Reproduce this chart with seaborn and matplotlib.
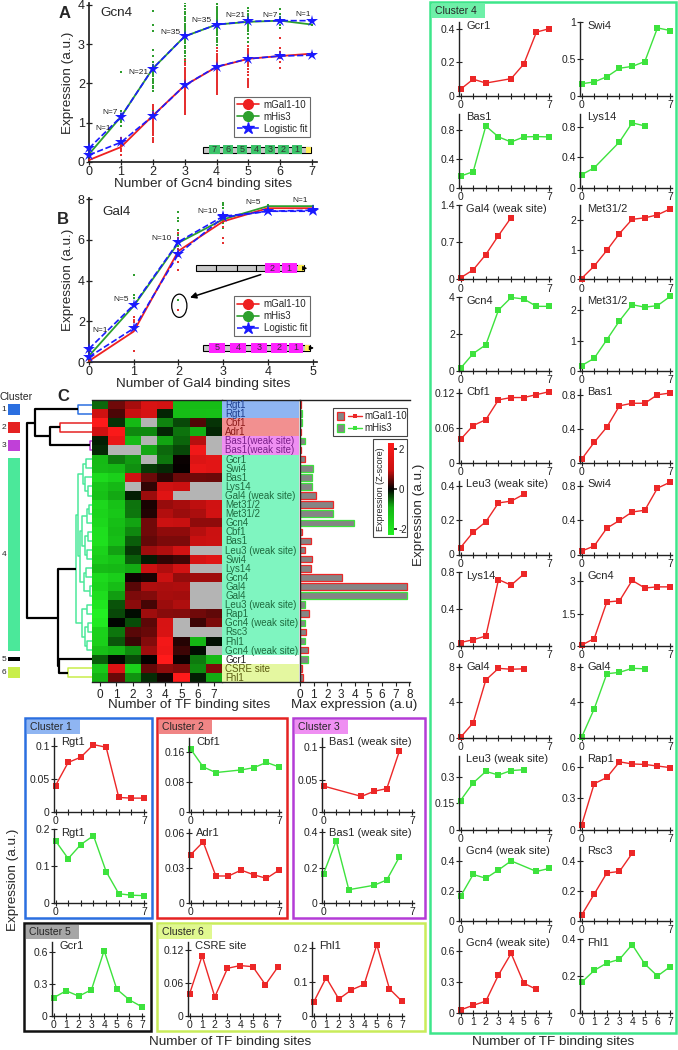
import numpy as np
import pandas as pd
import matplotlib
matplotlib.use("Agg")
import matplotlib.pyplot as plt
import matplotlib.cm as cm
import seaborn as sns
from matplotlib.colors import LinearSegmentedColormap, Normalize
from matplotlib.patches import Rectangle, Ellipse, FancyArrowPatch
from matplotlib.lines import Line2D

nan = np.nan

# ---------------- panel A : Gcn4 titration ----------------
gcn4_sites = [0, 1, 2, 3, 4, 5, 6, 7]
gcn4_n = [1, 7, 21, 35, 35, 21, 7, 1]
gcn4_gal_mean = [0.05, 0.38, 1.18, 1.95, 2.42, 2.63, 2.70, 2.76]
gcn4_his_mean = [0.20, 1.15, 2.38, 3.20, 3.50, 3.57, 3.60, 3.50]
gcn4_gal_fit = [0.18, 0.50, 1.17, 1.95, 2.43, 2.63, 2.70, 2.72]
gcn4_his_fit = [0.35, 1.15, 2.38, 3.20, 3.50, 3.58, 3.60, 3.60]
gcn4_his_dots = [
    [0.20],
    [2.30, 1.30, 1.22, 1.15, 1.08, 1.02, 0.92],
    [3.85, 3.50, 3.33, 2.85, 2.70, 2.55, 2.48, 2.42, 2.36, 2.30, 2.25, 2.18, 2.12, 2.06, 2.00, 1.94, 1.88, 1.80, 1.45, 1.38, 1.30],
    [4.05, 3.98, 3.90, 3.82, 3.76, 3.70, 3.64, 3.58, 3.52, 3.47, 3.42, 3.37, 3.32, 3.27, 3.22, 3.17, 3.12, 3.07,
     3.02, 2.96, 2.90, 2.84, 2.77, 2.70, 2.62, 2.55, 2.47, 2.38, 2.30, 2.22, 2.13, 2.05, 1.95, 1.85, 1.75],
    [4.10, 4.02, 3.96, 3.91, 3.86, 3.82, 3.78, 3.74, 3.70, 3.66, 3.62, 3.58, 3.54, 3.50, 3.46, 3.42, 3.38, 3.33,
     3.28, 3.23, 3.17, 3.11, 3.05, 2.98, 2.91, 2.84, 2.76, 2.68, 2.60, 2.52, 2.44, 2.36, 2.28, 2.20, 2.10],
    [4.10, 3.92, 3.84, 3.78, 3.73, 3.68, 3.64, 3.60, 3.56, 3.52, 3.48, 3.44, 3.39, 3.33, 3.25, 3.15, 3.05, 2.95, 2.85, 2.75, 2.65],
    [3.90, 3.78, 3.70, 3.64, 3.58, 3.50, 3.42],
    [3.50],
]
gcn4_gal_dots = [
    [0.05],
    [0.62, 0.52, 0.45, 0.40, 0.34, 0.28, 0.18],
    [1.45, 1.40, 1.34, 1.28, 1.24, 1.20, 1.16, 1.12, 1.08, 1.04, 1.00, 0.96, 0.92, 0.88, 0.84, 0.80, 0.74, 0.68, 0.62, 0.57, 0.52],
    [2.60, 2.52, 2.46, 2.40, 2.34, 2.28, 2.23, 2.18, 2.14, 2.10, 2.06, 2.02, 1.98, 1.94, 1.90, 1.86, 1.82, 1.78,
     1.74, 1.70, 1.66, 1.62, 1.58, 1.54, 1.50, 1.46, 1.42, 1.38, 1.34, 1.30, 1.26, 1.22, 2.00, 1.92, 1.88],
    [2.90, 2.82, 2.76, 2.71, 2.67, 2.63, 2.59, 2.56, 2.53, 2.50, 2.47, 2.44, 2.41, 2.38, 2.35, 2.32, 2.28, 2.24,
     2.20, 2.16, 2.12, 2.08, 2.04, 2.00, 1.96, 1.92, 1.88, 1.84, 1.80, 1.76, 1.73, 2.45, 2.40, 2.30, 2.26],
    [2.95, 2.88, 2.82, 2.77, 2.73, 2.69, 2.65, 2.61, 2.57, 2.53, 2.49, 2.44, 2.38, 2.30, 2.22, 2.12, 2.08, 2.04, 2.00, 1.96, 1.92],
    [3.15, 2.90, 2.80, 2.72, 2.64, 2.55, 2.40],
    [2.78],
]

# ---------------- panel B : Gal4 titration ----------------
gal4_sites = [0, 1, 2, 3, 4, 5]
gal4_n = [1, 5, 10, 10, 5, 1]
gal4_gal_mean = [0.05, 1.50, 5.45, 6.90, 7.55, 7.55]
gal4_his_mean = [0.30, 2.75, 5.85, 7.00, 7.65, 7.65]
gal4_gal_fit = [0.25, 1.65, 5.30, 7.10, 7.40, 7.40]
gal4_his_fit = [0.65, 2.80, 5.90, 7.15, 7.40, 7.45]
gal4_his_dots = [[0.30], [4.25, 3.30, 3.15, 2.05], [7.35, 7.05, 6.90, 6.50, 6.25, 5.95, 5.70, 3.05],
                 [7.80, 7.70, 7.55, 7.05, 6.90, 6.80, 6.60], [7.70], [7.65]]
gal4_gal_dots = [[0.05], [2.20, 2.05, 1.95, 0.55], [6.35, 6.10, 5.95, 5.55, 5.20, 4.90, 4.50, 2.55],
                 [7.25, 6.65, 6.10, 5.85], [7.45], [7.55]]

# ---------------- panel C : promoter library ----------------
sites8 = [0, 1, 2, 3, 4, 5, 6, 7]
heat_labels = ['Rgt1', 'Rgt1', 'Cbf1', 'Adr1', 'Bas1(weak site)', 'Bas1(weak site)',
               'Gcr1', 'Swi4', 'Bas1', 'Lys14', 'Gal4 (weak site)', 'Met31/2', 'Met31/2', 'Gcn4',
               'Cbf1', 'Bas1', 'Leu3 (weak site)', 'Swi4', 'Lys14', 'Gcn4', 'Gal4', 'Gal4',
               'Leu3 (weak site)', 'Rap1', 'Gcn4 (weak site)', 'Rsc3', 'Fhl1', 'Gcn4 (weak site)',
               'Gcr1', 'CSRE site', 'Fhl1']
heat_cluster = [1, 1, 2, 2, 3, 3] + [4] * 22 + [5, 6, 6]
heat_reporter = ['gal', 'his', 'his', 'gal', 'his', 'gal',
                 'gal', 'his', 'his', 'his', 'gal', 'gal', 'his', 'his',
                 'gal', 'gal', 'gal', 'gal', 'gal', 'gal', 'gal', 'his',
                 'his', 'gal', 'his', 'gal', 'his', 'gal',
                 'his', 'gal', 'gal']
heat_values = [
    [0.040, 0.075, 0.083, 0.102, 0.098, 0.022, 0.021, 0.021],
    [0.168, 0.120, 0.158, 0.182, 0.085, 0.025, 0.021, 0.020],
    [0.168, 0.120, 0.105, nan, 0.112, 0.118, 0.132, 0.120],
    [0.041, 0.052, 0.023, 0.023, 0.028, 0.024, 0.021, 0.028],
    [0.165, 0.350, 0.075, nan, 0.100, 0.130, 0.260, nan],
    [0.040, nan, nan, 0.024, 0.032, 0.036, 0.094, nan],
    [0.040, 0.100, 0.077, nan, 0.103, 0.190, 0.380, 0.400],
    [0.165, 0.190, 0.260, 0.375, 0.400, 0.465, 0.920, 0.885],
    [0.160, 0.220, 0.850, 0.700, 0.630, 0.700, 0.705, 0.700],
    [0.170, 0.260, nan, 0.600, 0.850, 0.810, nan, nan],
    [0.030, 0.180, 0.470, 0.830, 1.170, nan, nan, nan],
    [0.030, 0.450, 0.980, 1.550, 2.030, 2.080, 2.180, 2.380],
    [0.180, 0.420, 1.030, 1.650, 2.180, 2.100, 2.150, 2.450],
    [0.150, 0.950, 1.420, 3.300, 3.980, 3.900, 3.500, 3.500],
    [0.040, 0.064, 0.074, 0.108, 0.112, 0.112, 0.117, 0.122],
    [0.040, 0.240, 0.420, 0.670, 0.700, 0.700, 0.800, 0.820],
    [0.040, 0.130, 0.190, 0.300, 0.310, 0.350, nan, nan],
    [0.040, 0.100, 0.310, 0.400, 0.500, 0.520, 0.780, 0.850],
    [0.040, 0.070, 0.110, 0.720, 0.660, 0.780, nan, nan],
    [0.050, 0.350, 2.050, 2.100, 3.050, 2.700, 2.750, 2.750],
    [0.050, 1.700, 6.500, 7.800, 7.700, 7.750, nan, nan],
    [0.050, 3.250, 7.200, 7.350, 7.800, 7.750, nan, nan],
    [0.165, 0.265, 0.330, 0.310, 0.335, 0.340, nan, nan],
    [0.040, 0.440, 0.500, 0.650, 0.630, 0.625, 0.610, 0.595],
    [0.165, 0.310, 0.285, 0.340, 0.400, nan, 0.330, 0.350],
    [0.040, 0.180, 0.320, 0.330, 0.450, nan, nan, nan],
    [0.165, 0.230, 0.270, 0.290, 0.370, 0.265, 0.200, 0.250],
    [0.030, 0.075, 0.115, 0.370, 0.580, 0.290, 0.230, nan],
    [0.170, 0.235, 0.185, 0.245, 0.610, 0.250, 0.150, 0.085],
    [0.040, 0.110, 0.035, 0.087, 0.092, 0.090, 0.057, 0.090],
    [0.040, 0.113, 0.050, 0.077, 0.093, 0.210, 0.080, 0.043],
]
y_top_tick = [0.1, 0.2, 0.16, 0.06, 0.4, 0.1,
              0.4, 1, 0.8, 0.8, 1.4, 2, 2, 4, 0.12, 0.8, 0.4, 0.8, 0.8, 3, 8, 8,
              0.3, 0.6, 0.4, 0.4, 0.4, 0.6, 0.6, 0.12, 0.2]
# dendrogram merges: (child a, child b, height); new node ids start at 31
dendro_links = [(0, 1, 14), (2, 3, 32), (4, 5, 2), (32, 33, 42), (31, 34, 57),
                (6, 7, 6), (9, 10, 4), (8, 37, 7), (36, 38, 9), (11, 12, 3), (13, 40, 5),
                (14, 15, 4), (16, 17, 5), (42, 43, 7), (41, 44, 10), (18, 19, 6), (20, 21, 2),
                (46, 47, 8), (45, 48, 12), (39, 49, 14), (22, 23, 5), (24, 25, 4), (26, 27, 5),
                (52, 53, 7), (51, 54, 10), (50, 55, 16), (29, 30, 24), (28, 57, 33),
                (56, 58, 34), (35, 59, 65)]

# ---------------- layout (pixels) and styles ----------------
y_lim_top = [0.112, 0.2, 0.197, 0.063, 0.417, 0.114,
             0.44, 1.0, 1.02, 0.97, 1.4, 2.5, 2.43, 4.0, 0.127, 0.87, 0.43, 0.87, 0.8, 3.43, 8.3, 8.3,
             0.42, 0.71, 0.49, 0.49, 0.4, 0.72, 0.69, 0.135, 0.218]
grid4_rows = [6, 7, 8, 9, 10, 11, 13, 12, 14, 15, 16, 17, 18, 19, 20, 21, 22, 23, 24, 25, 27, 26]
gcn4_n_xy = [(0.45, 0.86), (0.65, 1.26), (1.54, 2.27), (2.54, 3.29), (3.54, 3.6), (4.58, 3.74), (5.67, 3.74), (6.72, 3.76)]
gal4_n_xy = [(0.24, 1.54), (0.72, 3.09), (1.62, 6.08), (2.65, 7.39), (3.68, 7.85), (4.72, 7.95)]

RED = '#ee2020'
GREEN_LINE = '#2ca02c'
DOT_GREEN = '#2e9e2e'
DOT_RED = '#e53030'
BLUE = '#1a1aff'
SM_RED = '#ec2727'
SM_GREEN = '#3de23d'
cl_line = {1: '#2b6fe0', 2: '#e52222', 3: '#c040d8', 4: '#4be89a', 5: 'black', 6: '#c9ee4a'}
cl_frame = {1: '#2b6fe0', 2: '#e52222', 3: '#b43cd6', 4: '#3de68a', 5: '#111111', 6: '#c9ec5a'}
cl_fill = {1: '#8fb5f2', 2: '#f29090', 3: '#ef8ff2', 4: '#7ff5c0', 5: 'white', 6: '#e4f7a0'}
cl_tag = {1: '#8fb5f2', 2: '#f08585', 3: '#ef8ff2', 4: '#6ef0a8', 5: '#a6a6a6', 6: '#e0f890'}
cl_text = {1: '#1f3f8f', 2: '#8b1a1a', 3: '#7a1f8a', 4: '#1f6b3f', 5: '#222222', 6: '#5a5a10'}

sns.set_theme(style='white')
plt.rcParams['font.family'] = ['Liberation Sans', 'DejaVu Sans']
plt.rcParams['axes.edgecolor'] = '#222222'
plt.rcParams['xtick.color'] = '#222222'
plt.rcParams['ytick.color'] = '#222222'

fig = plt.figure(figsize=(6.78, 10.5), dpi=100)
W, H = 678.0, 1050.0


def add_ax(l, t, r, b):
    return fig.add_axes([l / W, 1 - b / H, (r - l) / W, (b - t) / H])


def fig_text(x, y, s, **kw):
    fig.text(x / W, 1 - y / H, s, **kw)


def fig_rect(l, t, r, b, **kw):
    fig.add_artist(Rectangle((l / W, 1 - b / H), (r - l) / W, (b - t) / H,
                             transform=fig.transFigure, **kw))


def promoter(ax, x0, x1, y, hh, boxes, dividers=()):
    ax.add_patch(Rectangle((x0, y - hh * 0.3), x1 - x0, hh * 0.6, fc='#c8c8c8', ec='black', lw=0.8, zorder=5))
    for d in dividers:
        ax.plot([d, d], [y - hh * 0.3, y + hh * 0.3], color='black', lw=0.8, zorder=6)
    for xc, lab, w, col in boxes:
        ax.add_patch(Rectangle((xc - w / 2, y - hh / 2), w, hh, fc=col, ec='none', zorder=6))
        ax.text(xc, y, lab, ha='center', va='center', fontsize=6.5, color='#333333', zorder=7)
    ax.add_patch(Rectangle((x1 - (x1 - x0) * 0.05, y - hh * 0.3), (x1 - x0) * 0.05, hh * 0.6, fc='#ffee55', ec='none', zorder=6))
    ax.annotate('', xy=(x1 + (x1 - x0) * 0.06, y), xytext=(x1 - (x1 - x0) * 0.02, y),
                arrowprops=dict(arrowstyle='-|>', color='black', lw=0.8, mutation_scale=6), zorder=7)


def dose_panel(ax, sites, gal_dots, his_dots, gal_mean, his_mean, gal_fit, his_fit, n, n_xy):
    rows = [(s, v, 'his') for s, vs in zip(sites, his_dots) for v in vs]
    rows += [(s, v, 'gal') for s, vs in zip(sites, gal_dots) for v in vs]
    dots = pd.DataFrame(rows, columns=['site', 'expr', 'rep'])
    sns.scatterplot(data=dots[dots.rep == 'his'], x='site', y='expr', color=DOT_GREEN, marker='s',
                    s=3, linewidth=0, ax=ax, zorder=2)
    sns.scatterplot(data=dots[dots.rep == 'gal'], x='site', y='expr', color=DOT_RED, marker='s',
                    s=3, linewidth=0, ax=ax, zorder=2)
    sns.lineplot(x=sites, y=his_mean, color=GREEN_LINE, lw=1.3, ax=ax, zorder=3, clip_on=False)
    sns.lineplot(x=sites, y=gal_mean, color=RED, lw=1.3, ax=ax, zorder=3, clip_on=False)
    for fit in (his_fit, gal_fit):
        sns.lineplot(x=sites, y=fit, color=BLUE, lw=1.2, linestyle='--', marker='*', markersize=9,
                     markeredgewidth=0, ax=ax, zorder=4, clip_on=False)
    for k, (tx, ty) in zip(n, n_xy):
        ax.text(tx, ty, f'N={k}', fontsize=6, ha='center', va='center', color='#222222', zorder=8)
    sns.despine(ax=ax)
    ax.tick_params(direction='inout', length=4, width=0.9, labelsize=9, pad=1, bottom=True, left=True)
    ax.set_ylabel('Expression (a.u.)', fontsize=9.7, labelpad=3)
    handles = [Line2D([], [], color=RED, marker='o', markersize=7, lw=1.2),
               Line2D([], [], color=GREEN_LINE, marker='o', markersize=7, lw=1.2),
               Line2D([], [], color=BLUE, marker='*', markersize=9, lw=1.1, linestyle='--')]
    return handles


# ---- A ----
axA = add_ax(89, 3, 317, 162)
hA = dose_panel(axA, gcn4_sites, gcn4_gal_dots, gcn4_his_dots, gcn4_gal_mean, gcn4_his_mean,
                gcn4_gal_fit, gcn4_his_fit, gcn4_n, gcn4_n_xy)
axA.set_xlim(0, 7.15)
axA.set_ylim(0, 4.05)
axA.set_xticks(gcn4_sites)
axA.set_yticks([0, 1, 2, 3, 4])
axA.set_xlabel('Number of Gcn4 binding sites', fontsize=9.7, labelpad=0)
leg = axA.legend(hA, ['mGal1-10', 'mHis3', 'Logistic fit'], loc='upper right', bbox_to_anchor=(0.99, 0.44),
                 fontsize=7, frameon=True, fancybox=False, edgecolor='#444444', borderpad=0.3,
                 labelspacing=0.2, handlelength=2.2, handletextpad=0.5)
leg.get_frame().set_linewidth(0.8)
promoter(axA, 3.58, 6.97, 0.31, 0.23,
         [(3.93, '7', 0.33, '#3cc46a'), (4.36, '6', 0.33, '#3cc46a'), (4.80, '5', 0.33, '#3cc46a'),
          (5.24, '4', 0.33, '#3cc46a'), (5.67, '3', 0.33, '#3cc46a'), (6.10, '2', 0.33, '#3cc46a'),
          (6.53, '1', 0.33, '#3cc46a')])
fig_text(65, 13, 'A', fontsize=12, fontweight='bold', ha='center', va='center')
fig_text(100, 13, 'Gcn4', fontsize=9.7, ha='left', va='center')

# ---- B ----
axB = add_ax(89, 198, 317, 362)
hB = dose_panel(axB, gal4_sites, gal4_gal_dots, gal4_his_dots, gal4_gal_mean, gal4_his_mean,
                gal4_gal_fit, gal4_his_fit, gal4_n, gal4_n_xy)
axB.set_xlim(0, 5.1)
axB.set_ylim(0, 8.05)
axB.set_xticks(gal4_sites)
axB.set_yticks([0, 2, 4, 6, 8])
axB.set_xlabel('Number of Gal4 binding sites', fontsize=9.7, labelpad=0)
leg = axB.legend(hB, ['mGal1-10', 'mHis3', 'Logistic fit'], loc='upper right', bbox_to_anchor=(0.99, 0.43),
                 fontsize=7, frameon=True, fancybox=False, edgecolor='#444444', borderpad=0.3,
                 labelspacing=0.2, handlelength=2.2, handletextpad=0.5)
leg.get_frame().set_linewidth(0.8)
promoter(axB, 2.40, 4.80, 4.60, 0.5,
         [(4.10, '2', 0.33, '#ff22ff'), (4.48, '1', 0.33, '#ff22ff')], dividers=(2.85, 3.30, 3.74))
promoter(axB, 2.56, 4.95, 0.69, 0.5,
         [(2.87, '5', 0.36, '#ff22ff'), (3.33, '4', 0.36, '#ff22ff'), (3.80, '3', 0.36, '#ff22ff'),
          (4.26, '2', 0.36, '#ff22ff'), (4.63, '1', 0.33, '#ff22ff')])
axB.add_patch(Ellipse((2.02, 2.76), 0.34, 1.14, fc='none', ec='black', lw=0.9, zorder=6))
axB.add_patch(FancyArrowPatch((3.9, 4.33), (2.2, 3.12), arrowstyle='-|>', mutation_scale=9,
                              color='black', lw=1.1, zorder=6))
fig_text(63, 219, 'B', fontsize=12, fontweight='bold', ha='center', va='center')
fig_text(102, 212, 'Gal4', fontsize=9.7, ha='left', va='center')

# ---- C : heatmap ----
n_rows = len(heat_labels)
heat_arr = np.array(heat_values, dtype=float)
zscore = (heat_arr - np.nanmean(heat_arr, axis=1, keepdims=True)) / np.nanstd(heat_arr, axis=1, keepdims=True)
heat_cmap = LinearSegmentedColormap.from_list(
    'gkr', [(0.0, '#22f022'), (0.3, '#14b414'), (0.5, '#000000'), (0.7, '#c81010'), (1.0, '#ff1a1a')])

axH = add_ax(92, 400, 222, 682)
sns.heatmap(pd.DataFrame(zscore, columns=sites8), ax=axH, cmap=heat_cmap, vmin=-2.3, vmax=2.3,
            cbar=False, xticklabels=False, yticklabels=False)
axH.set_facecolor('#b4b4b4')
axH.set_xticks(np.arange(8) + 0.5)
axH.set_xticklabels([str(s) for s in sites8], fontsize=8.5)
axH.tick_params(bottom=True, left=False, length=3, width=0.8, pad=2)
for sp in ('top', 'bottom'):
    axH.spines[sp].set_visible(True)
    axH.spines[sp].set_linewidth(1)
axH.set_xlabel('')
axH.set_ylabel('')

# row labels with cluster backgrounds
axL = add_ax(222, 400, 299, 682)
axL.set_xlim(0, 1)
axL.set_ylim(n_rows, 0)
for i, (lab, c) in enumerate(zip(heat_labels, heat_cluster)):
    axL.axhspan(i, i + 1, color=cl_fill[c], lw=0)
    axL.text(0.04, i + 0.55, lab, fontsize=7, color=cl_text[c], va='center', ha='left')
axL.set_xticks([])
axL.set_yticks([])
for sp in ('left', 'right'):
    axL.spines[sp].set_visible(False)
for sp in ('top', 'bottom'):
    axL.spines[sp].set_linewidth(1)

# max expression bars
axBar = add_ax(300, 400, 410, 682)
bar_df = pd.DataFrame({'row': np.arange(n_rows), 'maxexp': np.nanmax(heat_arr, axis=1)})
sns.barplot(data=bar_df, x='maxexp', y='row', orient='h', color='#858585', saturation=1,
            width=0.72, linewidth=0.9, ax=axBar)
for p, rep in zip(axBar.patches, heat_reporter):
    p.set_edgecolor(SM_RED if rep == 'gal' else SM_GREEN)
axBar.set_ylim(n_rows - 0.5, -0.5)
axBar.set_xlim(0, 8.05)
axBar.set_xticks(range(9))
axBar.set_yticks([])
axBar.set_xlabel('')
axBar.set_ylabel('')
axBar.spines['right'].set_visible(False)
for sp in ('top', 'bottom', 'left'):
    axBar.spines[sp].set_linewidth(1)
axBar.tick_params(bottom=True, length=3, width=0.8, labelsize=8.5, pad=2)

fig_text(189, 705, 'Number of TF binding sites', fontsize=9.7, ha='center', va='center')
fig_text(354, 705, 'Max expression (a.u)', fontsize=9.7, ha='center', va='center')

# bar legend
fig_rect(333, 408, 407, 436, fc='white', ec='#444444', lw=0.8, zorder=5)
for yy, col, lab in ((416, SM_RED, 'mGal1-10'), (428, SM_GREEN, 'mHis3')):
    fig_rect(337, yy - 4, 344, yy + 4, fc='#858585', ec=col, lw=0.9, zorder=6)
    fig.add_artist(Line2D([348 / W, 362 / W], [1 - yy / H] * 2, color=col, lw=1, marker='', zorder=6))
    fig.add_artist(Line2D([355 / W], [1 - yy / H], color=col, marker='s', markersize=3, mew=0, zorder=6))
    fig_text(364, yy, lab, fontsize=7, ha='left', va='center', zorder=6)

# colour bar
fig_rect(373, 439, 407, 537, fc='none', ec='#444444', lw=0.8, zorder=5)
cax = add_ax(388, 443, 394, 535)
cb = fig.colorbar(cm.ScalarMappable(norm=Normalize(-2.3, 2.3), cmap=heat_cmap), cax=cax, ticks=[-2, 0, 2])
cb.outline.set_visible(False)
cb.ax.tick_params(labelsize=7, length=2, pad=1)
cb.ax.set_yticklabels(['-2', '0', '2'])
cb.ax.yaxis.set_label_position('left')
cb.set_label('Expression (Z-score)', fontsize=6.5, labelpad=2)

# dendrogram
axD = add_ax(27, 400, 92, 682)
axD.set_xlim(65, 0)
axD.set_ylim(n_rows, 0)
axD.axis('off')
pos = {i: i + 0.5 for i in range(n_rows)}
hgt = {i: 0.0 for i in range(n_rows)}
members = {i: {heat_cluster[i]} for i in range(n_rows)}
for k, (a, b, h) in enumerate(dendro_links):
    node = n_rows + k
    cl = members[a] | members[b]
    col = cl_line[next(iter(cl))] if len(cl) == 1 else 'black'
    axD.plot([hgt[a], h, h, hgt[b]], [pos[a], pos[a], pos[b], pos[b]], color=col,
             lw=1.6 if col == 'black' else 1.1, solid_capstyle='butt', clip_on=False)
    pos[node] = (pos[a] + pos[b]) / 2
    hgt[node] = h
    members[node] = cl

# cluster colour key
axK = add_ax(0, 400, 27, 682)
axK.set_xlim(0, 27)
axK.set_ylim(n_rows, 0)
axK.axis('off')
for c in sorted(set(heat_cluster)):
    idx = [i for i, v in enumerate(heat_cluster) if v == c]
    inset = 0.4 if len(idx) > 1 else 0.3
    axK.add_patch(Rectangle((8, idx[0] + inset), 12, len(idx) - 2 * inset, fc=cl_line[c], ec='none'))
    axK.text(4, (idx[0] + idx[-1] + 1) / 2, str(c), fontsize=6, ha='center', va='center')
fig_text(0, 397, 'Cluster', fontsize=7.5, ha='left', va='center')
fig_text(63, 397, 'C', fontsize=12, fontweight='bold', ha='center', va='center')


# ---- small profile plots ----
def small_plot(ax, row, all_xlabels=False):
    vals = heat_arr[row]
    keep = ~np.isnan(vals)
    col = SM_RED if heat_reporter[row] == 'gal' else SM_GREEN
    sns.lineplot(x=np.array(sites8)[keep], y=vals[keep], ax=ax, color=col, marker='s', markersize=3.8,
                 markeredgewidth=0, linewidth=1.0, clip_on=False)
    top = y_top_tick[row]
    ax.set_xlim(-0.12, 7.15)
    ax.set_ylim(0, y_lim_top[row])
    ax.set_yticks([0, top / 2, top])
    ax.set_yticklabels([f'{v:g}' for v in (0, top / 2, top)])
    ax.set_xticks(sites8)
    ax.set_xticklabels([str(s) if (all_xlabels or s in (0, 7)) else '' for s in sites8])
    sns.despine(ax=ax)
    for sp in ('left', 'bottom'):
        ax.spines[sp].set_linewidth(1)
    ax.tick_params(direction='inout', length=4, width=0.8, labelsize=7.5, pad=1, bottom=True, left=True)
    ax.set_facecolor('none')
    ax.text(0.08, 1.02, heat_labels[row].replace('1(', '1 ('), transform=ax.transAxes,
            fontsize=8, ha='left', va='top')


# cluster 4 column
for k, row in enumerate(grid4_rows):
    r, c = divmod(k, 2)
    left = 459 if c == 0 else 580
    bottom = 96 + r * 91.7
    ax = add_ax(left, bottom - 74, left + 92, bottom)
    small_plot(ax, row, all_xlabels=(r == 10))

# bottom clusters
bottom_axes = [(54, 812, 0), (54, 903, 1), (189, 812, 2), (189, 903, 3), (322, 812, 5), (322, 903, 4),
               (52, 1016, 28), (188, 1016, 29), (312, 1016, 30)]
for left, bottom, row in bottom_axes:
    ax = add_ax(left, bottom - 74, left + 92, bottom)
    small_plot(ax, row, all_xlabels=(bottom > 1000))

# frames and tags
frames = [(1, 25, 718, 152, 918), (2, 157, 718, 287, 918), (3, 293, 718, 425, 918),
          (5, 24, 923, 151, 1031), (6, 157, 923, 425, 1031), (4, 430, 2, 676, 1033)]
for c, l, t, r, b in frames:
    fig_rect(l, t, r, b, fc='none', ec=cl_frame[c], lw=1.8, zorder=10)
    fig_rect(l + 2, t + 2, l + 55, t + 16, fc=cl_tag[c], ec='none', zorder=9)
    fig_text(l + 5, t + 9, f'Cluster {c}', fontsize=7.5, ha='left', va='center', zorder=11)

fig_text(13, 880, 'Expression (a.u.)', fontsize=9.7, rotation=90, ha='center', va='center')
fig_text(419, 515, 'Expression (a.u.)', fontsize=9.7, rotation=90, ha='center', va='center')
fig_text(230, 1042, 'Number of TF binding sites', fontsize=9.7, ha='center', va='center')
fig_text(553, 1042, 'Number of TF binding sites', fontsize=9.7, ha='center', va='center')

fig.savefig('out.png', dpi=100)
